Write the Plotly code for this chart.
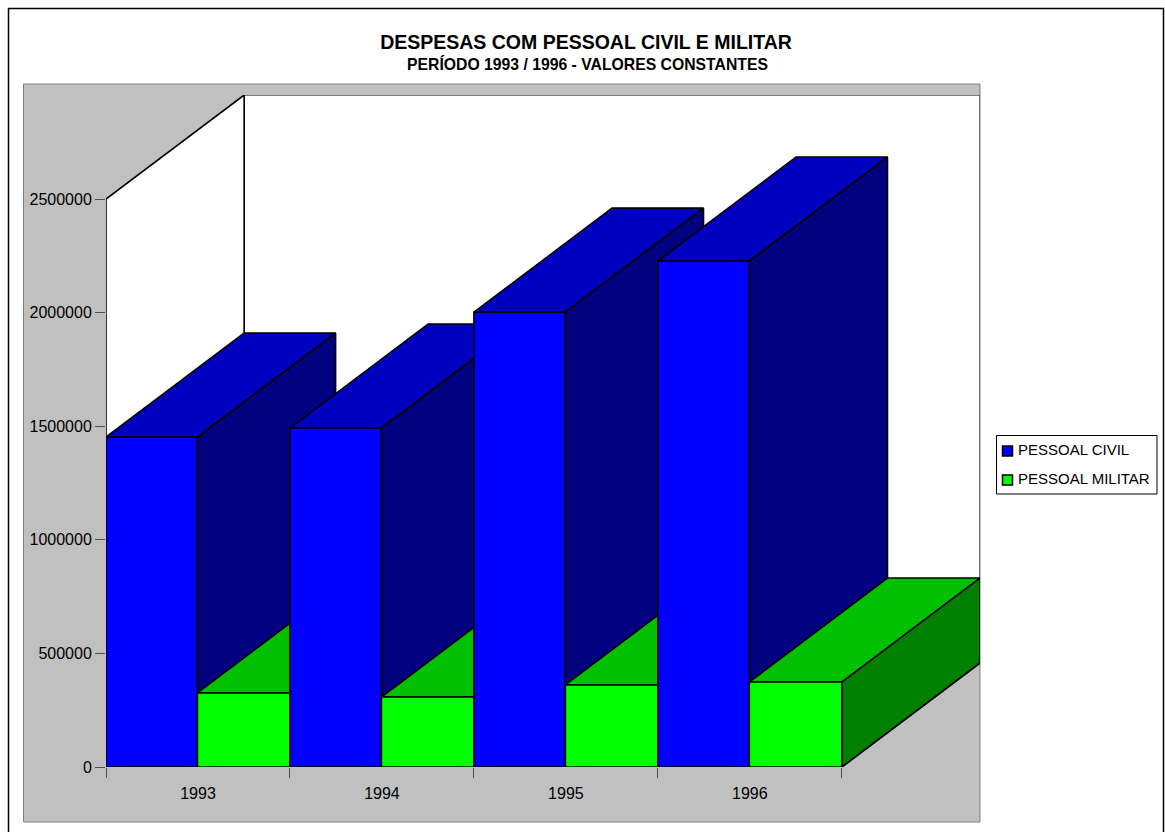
import plotly.graph_objects as go

# Spending by year, in constant values
years = ["1993", "1994", "1995", "1996"]
pessoal_civil = [1452000, 1492000, 2002000, 2227000]
pessoal_militar = [326000, 308000, 361000, 374000]
y_ticks = [0, 500000, 1000000, 1500000, 2000000, 2500000]

W, H = 1165, 832
LEFT, RIGHT, TOP, BOTTOM = 106, 980, 95, 767   # plot domain in pixels
CAT_PX = 183.75
Y_PX = 568 / 2500000
DEPTH_X = 138 / CAT_PX             # oblique offset, in category units
DEPTH_Y = 104 / Y_PX               # oblique offset, in value units
SPLIT = 0.497                      # share of a category taken by the first column
N = len(years)
Y_WALL = max(y_ticks)

BLACK = "#000000"
GRAY = "#C0C0C0"
BLUE = ("#0000FF", "#0000C0", "#000080")     # front, top, side
GREEN = ("#00FF00", "#00C000", "#008000")


def px(x):
    """Page pixel column to a fraction of the plot domain."""
    return (x - LEFT) / (RIGHT - LEFT)


def py(y):
    """Page pixel row to a fraction of the plot domain."""
    return (BOTTOM - y) / (BOTTOM - TOP)


def page_rect(x0, x1, y0, y1, fill, line, width=1):
    return dict(type="rect", xref="paper", yref="paper", layer="below",
                x0=px(x0), x1=px(x1), y0=py(y0), y1=py(y1),
                line=dict(color=line, width=width), fillcolor=fill)


fig = go.Figure()


def poly(xs, ys, fill, line=BLACK, width=1.6):
    fig.add_trace(go.Scatter(
        x=xs + xs[:1], y=ys + ys[:1], mode="lines", fill="toself", fillcolor=fill,
        line=dict(color=line, width=width), showlegend=False, hoverinfo="skip",
        cliponaxis=False,
    ))


def box(x0, x1, value, colors):
    front, top, side = colors
    poly([x0, x1, x1 + DEPTH_X, x0 + DEPTH_X],
         [value, value, value + DEPTH_Y, value + DEPTH_Y], top)
    poly([x1, x1 + DEPTH_X, x1 + DEPTH_X, x1],
         [0, DEPTH_Y, value + DEPTH_Y, value], side)
    poly([x0, x1, x1, x0], [0, 0, value, value], front)


# Walls of the oblique box: back, then left
poly([DEPTH_X, N + DEPTH_X, N + DEPTH_X, DEPTH_X],
     [DEPTH_Y, DEPTH_Y, Y_WALL + DEPTH_Y, Y_WALL + DEPTH_Y], "#FFFFFF", line="#505050")
poly([0, DEPTH_X, DEPTH_X, 0], [0, DEPTH_Y, Y_WALL + DEPTH_Y, Y_WALL], "#FFFFFF")
# Floor
poly([0, N, N + DEPTH_X, DEPTH_X], [0, 0, DEPTH_Y, DEPTH_Y], GRAY)

# Columns, painted left to right so nearer ones overlap
for i in range(N):
    box(i, i + SPLIT, pessoal_civil[i], BLUE)
    box(i + SPLIT, i + 1, pessoal_militar[i], GREEN)

# Legend entries; their swatches are drawn as shapes closer to the text
for name in ("PESSOAL CIVIL", "PESSOAL MILITAR"):
    fig.add_trace(go.Scatter(
        x=[None], y=[None], mode="markers", name=name, legendgroup=name,
        marker=dict(symbol="square", size=10, color="rgba(0,0,0,0)",
                    line=dict(width=0)),
    ))

fig.update_layout(
    width=W, height=H, autosize=False,
    margin=dict(l=LEFT, r=W - RIGHT, t=TOP, b=H - BOTTOM, pad=0, autoexpand=False),
    paper_bgcolor="#FFFFFF", plot_bgcolor="rgba(0,0,0,0)",
    font=dict(family="Liberation Sans, Arial, sans-serif", size=15, color=BLACK),
    title=dict(
        text="<b>DESPESAS COM PESSOAL CIVIL E MILITAR</b>",
        font=dict(size=19.5), x=586 / W, xanchor="center", xref="container",
        y=1 - 42 / H, yanchor="middle", yref="container",
    ),
    annotations=[dict(
        text="<b>PERÍODO 1993 / 1996 - VALORES CONSTANTES</b>",
        font=dict(size=15.75), xref="paper", yref="paper", showarrow=False,
        x=px(587), xanchor="center", y=py(64), yanchor="middle",
    )],
    xaxis=dict(
        range=[0, N + DEPTH_X], showgrid=False, zeroline=False, showline=False,
        tickmode="array", tickvals=[i + 0.5 for i in range(N)], ticktext=years,
        ticks="outside", ticklen=12, tickcolor="rgba(0,0,0,0)", tickfont=dict(size=16),
        minor=dict(tickmode="array", tickvals=list(range(N + 1)), ticks="outside",
                   ticklen=10, tickcolor="#505050", tickwidth=1),
    ),
    yaxis=dict(
        range=[0, Y_WALL + DEPTH_Y], showgrid=False, zeroline=False, showline=False,
        tickmode="array", tickvals=y_ticks, ticktext=[str(v) for v in y_ticks],
        ticks="outside", ticklen=10, tickcolor="#505050", tickwidth=1,
        tickfont=dict(size=16),
    ),
    legend=dict(
        x=px(993), xanchor="left", y=py(433), yanchor="top",
        bgcolor="rgba(0,0,0,0)", borderwidth=0,
        font=dict(size=15), indentation=-15, tracegroupgap=6,
    ),
    shapes=[
        page_rect(8.5, 1163.5, 8.5, 840, "#FFFFFF", BLACK, 1.5),
        page_rect(23.5, 980, 84, 822, GRAY, "#808080"),
        page_rect(996.5, 1157, 435.5, 494, "#FFFFFF", BLACK),
        page_rect(1002.5, 1012.5, 446, 456, BLUE[0], BLACK, 1.5),
        page_rect(1002.5, 1012.5, 475, 485, GREEN[0], BLACK, 1.5),
    ],
)

fig.write_html("out.html")
